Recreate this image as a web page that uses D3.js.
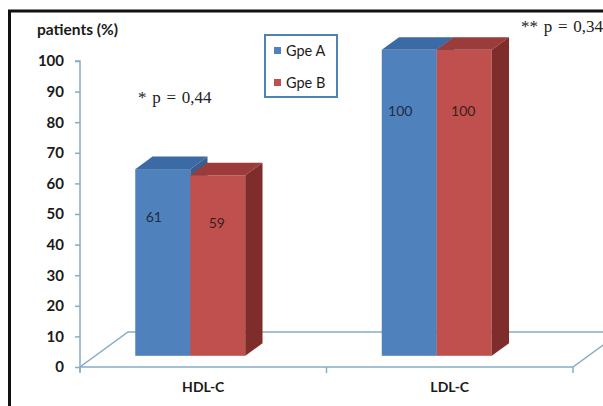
<!DOCTYPE html>
<html>
<head>
<meta charset="utf-8">
<script src="https://cdn.jsdelivr.net/npm/d3@7"></script>
<style>
  html, body { margin: 0; padding: 0; background: #fff; }
  svg { display: block; }
</style>
</head>
<body>
<svg id="chart" width="603" height="406"></svg>
<script>
// Share of patients (%) per lipid marker, for the two groups
const categories = ["HDL-C", "LDL-C"];
const seriesNames = ["Gpe A", "Gpe B"];
const gpeA = [61, 100];
const gpeB = [59, 100];
const yTicks = [0, 10, 20, 30, 40, 50, 60, 70, 80, 90, 100];
const pNotes = ["* p = 0,44", "** p = 0,34"];
const yTitle = "patients (%)";

const colors = {
  "Gpe A": { front: "#4F81BD", top: "#3C6AA4", side: "#385F8E" },
  "Gpe B": { front: "#C0504D", top: "#9C3C3A", side: "#7E2D2B" }
};
const axisColor = "#86ADC6";

const svg = d3.select("#chart");
const font = "Lato, 'Open Sans', sans-serif";

// Plot frame: value axis on the front plane, floor receding up-right
const x0 = 80, x1 = 573;
const y = d3.scaleLinear().domain([0, 100]).range([367, 61]);
const x = d3.scaleBand().domain(categories).range([x0, x1]);
const inner = d3.scaleBand().domain(seriesNames).range([0, 110]);

const depth = { dx: 48, dy: -35 };          // full floor depth
const barFront = 0.32, barBack = 0.68;      // bar slot within the depth
const fx = depth.dx * barFront, fy = depth.dy * barFront;
const bdx = depth.dx * (barBack - barFront), bdy = depth.dy * (barBack - barFront);

// Floor
const yb = y(0);
svg.append("polygon")
  .attr("points", [[x0, yb], [x1, yb], [x1 + depth.dx, yb + depth.dy], [x0 + depth.dx, yb + depth.dy]].join(" "))
  .attr("fill", "#fff").attr("stroke", axisColor).attr("stroke-width", 1.5);

// Value axis
const yAxis = d3.axisLeft(y).tickValues(yTicks).tickSize(5).tickPadding(11);
const gy = svg.append("g").attr("transform", `translate(${x0},0)`).call(yAxis);
gy.select(".domain").attr("stroke", axisColor).attr("stroke-width", 1.5)
  .attr("d", `M-5,${y(100)}H0V${y(0) + 5}`);
gy.selectAll(".tick line").attr("stroke", axisColor).attr("stroke-width", 1.5);
gy.selectAll(".tick text")
  .attr("font-family", font).attr("font-weight", "bold").attr("font-size", 15)
  .attr("fill", "#1a1a1a");

// Category axis ticks at band edges and labels at band centres
const edges = categories.map(c => x(c)).concat([x1]);
svg.append("g").selectAll("line").data(edges).join("line")
  .attr("x1", d => d).attr("x2", d => d)
  .attr("y1", yb).attr("y2", yb + 6)
  .attr("stroke", axisColor).attr("stroke-width", 1.5);
svg.append("g").selectAll("text").data(categories).join("text")
  .attr("x", d => x(d) + x.bandwidth() / 2)
  .attr("y", 392)
  .attr("text-anchor", "middle")
  .attr("font-family", font).attr("font-weight", "bold").attr("font-size", 14)
  .attr("fill", "#1a1a1a")
  .text(d => d);

// Bars (front, top and right side faces)
const rows = [];
categories.forEach((c, i) => {
  rows.push({ cat: c, s: "Gpe A", v: gpeA[i] });
  rows.push({ cat: c, s: "Gpe B", v: gpeB[i] });
});
const pairShift = -13 - 55;
rows.forEach(d => {
  const w = inner.bandwidth();
  const bx = x(d.cat) + x.bandwidth() / 2 + pairShift + inner(d.s);
  const top = y(d.v) + fy, base = y(0) + fy;
  const col = colors[d.s];
  const g = svg.append("g");
  g.append("rect").attr("x", bx).attr("y", top).attr("width", w).attr("height", base - top)
    .attr("fill", col.front);
  g.append("polygon")
    .attr("points", [[bx, top], [bx + w, top], [bx + w + bdx, top + bdy], [bx + bdx, top + bdy]].join(" "))
    .attr("fill", col.top);
  g.append("polygon")
    .attr("points", [[bx + w, top], [bx + w + bdx, top + bdy], [bx + w + bdx, base + bdy], [bx + w, base]].join(" "))
    .attr("fill", col.side);
  d.bx = bx; d.w = w;
});

// Value labels inside the bars
const labelY = v => 0.889 * y(v) + 57;
svg.append("g").selectAll("text").data(rows).join("text")
  .attr("x", d => d.bx + d.w / 2 + (d.s === "Gpe A" ? -9 : -1))
  .attr("y", d => labelY(d.v) + 5)
  .attr("text-anchor", "middle")
  .attr("font-family", font).attr("font-size", 14)
  .attr("fill", d => d.s === "Gpe A" ? "#1e2c44" : "#3a1f1f")
  .text(d => d.v);

// Axis title
svg.append("text").attr("x", 37).attr("y", 35)
  .attr("font-family", font).attr("font-weight", "bold").attr("font-size", 15.5)
  .attr("fill", "#1a1a1a").text(yTitle);

// Legend
const lg = svg.append("g");
lg.append("rect").attr("x", 265).attr("y", 35).attr("width", 72).attr("height", 62)
  .attr("fill", "#fff").attr("stroke", "#4E82B0").attr("stroke-width", 2);
seriesNames.forEach((s, i) => {
  lg.append("rect").attr("x", 274).attr("y", 47 + i * 32).attr("width", 7).attr("height", 7)
    .attr("fill", colors[s].front);
  lg.append("text").attr("x", 286).attr("y", 56 + i * 32)
    .attr("font-family", font).attr("font-size", 14.5).attr("fill", "#1a1a1a").text(s);
});

// Significance notes
const noteFont = "'Liberation Serif', 'DejaVu Serif', serif";
svg.append("text").attr("x", 138).attr("y", 103)
  .attr("font-family", noteFont).attr("font-size", 17).attr("word-spacing", 1.5)
  .attr("fill", "#222").text(pNotes[0]);
svg.append("text").attr("x", 521).attr("y", 32)
  .attr("font-family", noteFont).attr("font-size", 17).attr("word-spacing", 1.5)
  .attr("fill", "#222").text(pNotes[1]);

// Outer frame (top and left edges)
svg.append("line").attr("x1", 8).attr("x2", 603).attr("y1", 11).attr("y2", 11)
  .attr("stroke", "#111").attr("stroke-width", 3);
svg.append("line").attr("x1", 9.5).attr("x2", 9.5).attr("y1", 10).attr("y2", 406)
  .attr("stroke", "#111").attr("stroke-width", 3);
</script>
</body>
</html>
